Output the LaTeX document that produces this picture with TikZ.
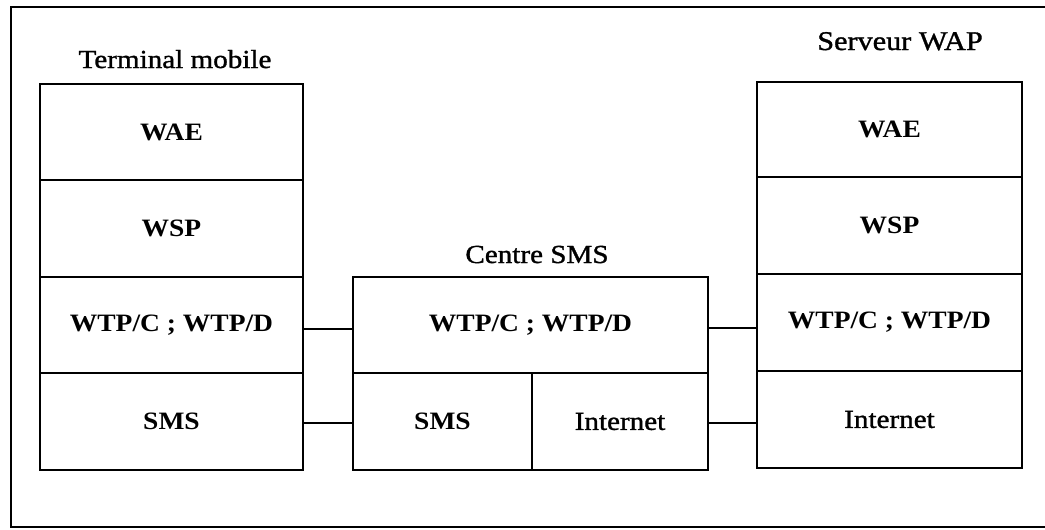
\documentclass[tikz,border=0pt]{standalone}
\usepackage{fontspec}
\setmainfont{Liberation Serif}[FakeStretch=1.1]
\newfontfamily\semifont{Liberation Serif}[FakeStretch=1.12,FakeBold=1.2]
\begin{document}
\begin{tikzpicture}[x=1pt,y=-1pt,
  frame/.style={line width=2.4pt},
  cell/.style={draw,line width=2.4pt,inner sep=0pt,font=\fontsize{25}{30}\selectfont\bfseries},
  semi/.style={font=\fontsize{26}{30}\selectfont\semifont},
  head/.style={inner sep=0pt,anchor=base,font=\fontsize{26}{30}\selectfont\semifont},
  link/.style={line width=2.4pt}]
\useasboundingbox (0,0) rectangle (1045,530);
% outer frame (open on the right)
\draw[frame] (1045,7) -- (11,7) -- (11,527) -- (1045,527);
% left stack: Terminal mobile
\node[cell,minimum width=263pt,minimum height=96pt] (lwae) at (171.5,132) {WAE};
\node[cell,minimum width=263pt,minimum height=97pt] (lwsp) at (171.5,228.5) {WSP};
\node[cell,minimum width=263pt,minimum height=96pt] (lwtp) at (171.5,325) {WTP/C ; WTP/D};
\node[cell,minimum width=263pt,minimum height=97pt] (lsms) at (171.5,421.5) {SMS};
\node[head] (lhead) at (175,68) {Terminal mobile};
% centre stack: Centre SMS
\node[cell,minimum width=355pt,minimum height=96pt] (ctop) at (530.5,325) {WTP/C ; WTP/D};
\node[cell,minimum width=179pt,minimum height=97pt] (csms) at (442.5,421.5) {SMS};
\node[cell,semi,minimum width=176pt,minimum height=97pt] (cint) at (620,421.5) {Internet};
\node[head] (chead) at (537,263) {Centre SMS};
% right stack: Serveur WAP
\node[cell,minimum width=265pt,minimum height=95pt] (rwae) at (889.5,129.5) {WAE};
\node[cell,minimum width=265pt,minimum height=97pt] (rwsp) at (889.5,225.5) {WSP};
\node[cell,minimum width=265pt,minimum height=97pt] (rwtp) at (889.5,322.5) {WTP/C ; WTP/D};
\node[cell,semi,minimum width=265pt,minimum height=97pt] (rint) at (889.5,419.5) {Internet};
\node[head,font=\fontsize{27}{30}\selectfont\semifont] (rhead) at (900,50) {Serveur WAP};
% connectors
\draw[link] ([yshift=-4pt]lwtp.east) -- ([yshift=-4pt]lwtp.east -| ctop.west);
\draw[link] ([yshift=-1.5pt]lsms.east) -- ([yshift=-1.5pt]lsms.east -| csms.west);
\draw[link] ([yshift=-3pt]ctop.east) -- ([yshift=-3pt]ctop.east -| rwtp.west);
\draw[link] ([yshift=-1.5pt]cint.east) -- ([yshift=-1.5pt]cint.east -| rint.west);
\end{tikzpicture}
\end{document}
